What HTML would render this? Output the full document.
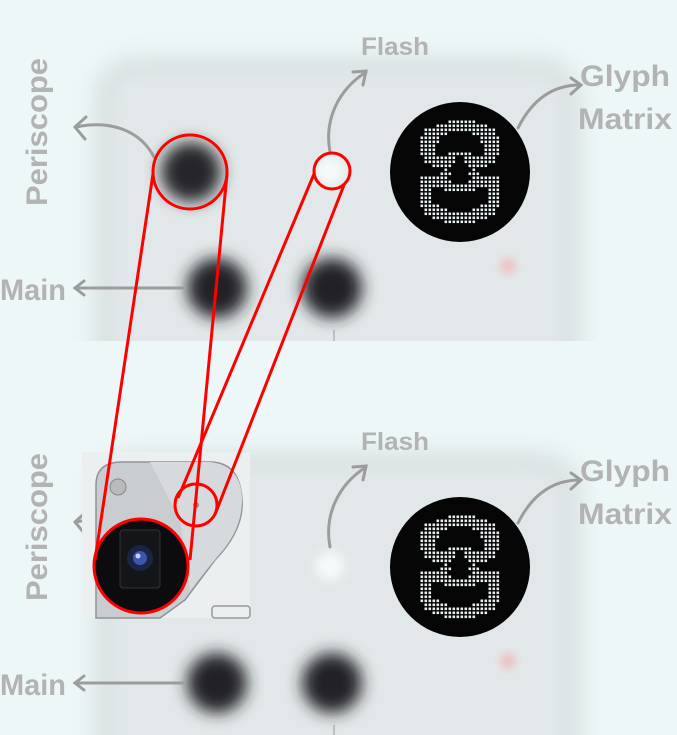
<!DOCTYPE html>
<html><head><meta charset="utf-8"><style>
html,body{margin:0;padding:0;background:#edf7f7;width:677px;height:735px;overflow:hidden}
svg{display:block}
text{font-family:"Liberation Sans",sans-serif;font-weight:bold;fill:#b3b3b3}
</style></head><body>
<svg width="677" height="735" viewBox="0 0 677 735" xmlns="http://www.w3.org/2000/svg">
<defs>
<filter id="b8" x="-50%" y="-50%" width="200%" height="200%"><feGaussianBlur stdDeviation="8"/></filter>
<filter id="b5" x="-50%" y="-50%" width="200%" height="200%"><feGaussianBlur stdDeviation="5"/></filter>
<filter id="b14" x="-20%" y="-20%" width="140%" height="140%"><feGaussianBlur stdDeviation="12"/></filter>
<pattern id="dots" width="4" height="4" patternUnits="userSpaceOnUse"><rect width="4" height="4" fill="#000"/><rect x="0.5" y="0.5" width="2.6" height="2.6" fill="#e8eef0"/></pattern>
<clipPath id="ctop"><rect x="0" y="0" width="677" height="341"/></clipPath>
<clipPath id="cbot"><rect x="0" y="420" width="677" height="315"/></clipPath>
<g id="scene">
  <rect x="95" y="58" width="485" height="400" rx="40" fill="#d8dfe0" filter="url(#b14)"/>
  <rect x="112" y="72" width="452" height="380" rx="30" fill="#e2e8e9" filter="url(#b8)"/>
  <circle cx="191" cy="172" r="30" fill="#26282a" filter="url(#b8)"/>
  <circle cx="330" cy="171" r="14" fill="#f6f9f9" filter="url(#b5)"/>
  <circle cx="217" cy="288" r="30" fill="#202325" filter="url(#b8)"/>
  <circle cx="332" cy="288" r="30" fill="#202325" filter="url(#b8)"/>
  <circle cx="508" cy="266" r="7" fill="#f3b3b3" filter="url(#b5)"/>
  <line x1="334" y1="330" x2="334" y2="345" stroke="#999" stroke-width="1"/>
  <!-- glyph matrix -->
  <circle cx="460" cy="172" r="70" fill="#050505"/>
  <g fill="url(#dots)" fill-rule="evenodd">
    <path d="M436 124 h12 v-4 h28 v4 h12 v4 h8 v8 h4 v20 h-4 v8 h-8 v4 h-20 v-4 h-4 v-8 h-8 v8 h-4 v4 h-20 v-4 h-8 v-8 h-4 v-20 h4 v-8 h12 z
             M440 136 h8 v-4 h24 v4 h8 v8 h4 v12 h-12 v-4 h-24 v4 h-12 v-12 h4 z"/>
    <path d="M420 176 h24 v4 h8 v4 h16 v-4 h8 v-4 h24 v32 h-4 v8 h-8 v4 h-12 v4 h-32 v-4 h-12 v-4 h-8 v-8 h-4 z
             M432 188 h12 v4 h32 v-4 h12 v16 h-8 v4 h-8 v4 h-24 v-4 h-8 v-4 h-8 z"/>
    <rect x="444" y="168" width="4" height="12"/><rect x="472" y="168" width="4" height="12"/>
    <rect x="440" y="172" width="12" height="4"/><rect x="468" y="172" width="12" height="4"/>
  </g>
  <!-- arrows -->
  <g fill="none" stroke="#9c9c9c" stroke-width="3" stroke-linecap="round">
    <path d="M154 157 C140 130 110 120 76 127"/><path d="M86 117 L75 127 L85 139"/>
    <path d="M183 288 L75 288"/><path d="M84 281 L75 288 L84 295"/>
    <path d="M330 152 C324 120 338 90 366 72"/><path d="M353 72 L366 71 L363 85"/>
    <path d="M518 128 C532 100 552 85 580 85"/><path d="M571 78 L581 85 L571 94"/>
  </g>
  <text x="361" y="55" font-size="25" textLength="68" lengthAdjust="spacingAndGlyphs">Flash</text>
  <text x="580" y="86" font-size="30" textLength="90" lengthAdjust="spacingAndGlyphs">Glyph</text>
  <text x="578" y="129" font-size="30" textLength="94" lengthAdjust="spacingAndGlyphs">Matrix</text>
  <text x="0" y="300" font-size="30" textLength="66" lengthAdjust="spacingAndGlyphs">Main</text>
  <text transform="translate(47 206) rotate(-90)" font-size="30" textLength="148" lengthAdjust="spacingAndGlyphs">Periscope</text>
</g>
</defs>
<use href="#scene" clip-path="url(#ctop)"/>
<g clip-path="url(#cbot)"><use href="#scene" transform="translate(0 395)"/></g>
<!-- inset photo -->
<g>
  <rect x="82" y="452" width="168" height="166" fill="#eceff0"/>
  <path d="M96 618 V485 Q96 462 122 462 H210 Q240 462 242 500 Q244 530 215 560 L185 600 L160 618 Z" fill="#c9cdd0" stroke="#8f9396" stroke-width="1.5"/>
  <path d="M150 462 L210 462 Q242 466 242 500 Q242 530 218 556 L190 590 L180 520 Z" fill="#d7dadc"/>
  <circle cx="118" cy="487" r="8" fill="#b7bbbe" stroke="#888" stroke-width="1"/>
  <circle cx="196" cy="505" r="3" fill="#8a8d90"/>
  <circle cx="141" cy="566" r="46" fill="#0c0c0e"/>
  <rect x="120" y="530" width="40" height="58" rx="3" fill="#141518" stroke="#333" stroke-width="1"/>
  <circle cx="140" cy="558" r="13" fill="#1c2444"/>
  <circle cx="140" cy="558" r="7" fill="#3c55b0"/>
  <circle cx="138" cy="556" r="2.5" fill="#c8d2ff"/>
  <rect x="212" y="606" width="38" height="12" rx="3" fill="none" stroke="#999" stroke-width="1.5"/>
</g>
<!-- red callouts -->
<g fill="none" stroke="#ff0000" stroke-width="3">
  <circle cx="190" cy="172" r="37"/>
  <circle cx="332" cy="171" r="18"/>
  <circle cx="141" cy="566" r="47"/>
  <circle cx="196" cy="505" r="21"/>
  <line x1="153" y1="174" x2="95" y2="560"/>
  <line x1="227" y1="174" x2="190" y2="560"/>
  <line x1="314" y1="174" x2="178" y2="498"/>
  <line x1="344" y1="185" x2="216" y2="512"/>
</g>
</svg>
</body></html>
